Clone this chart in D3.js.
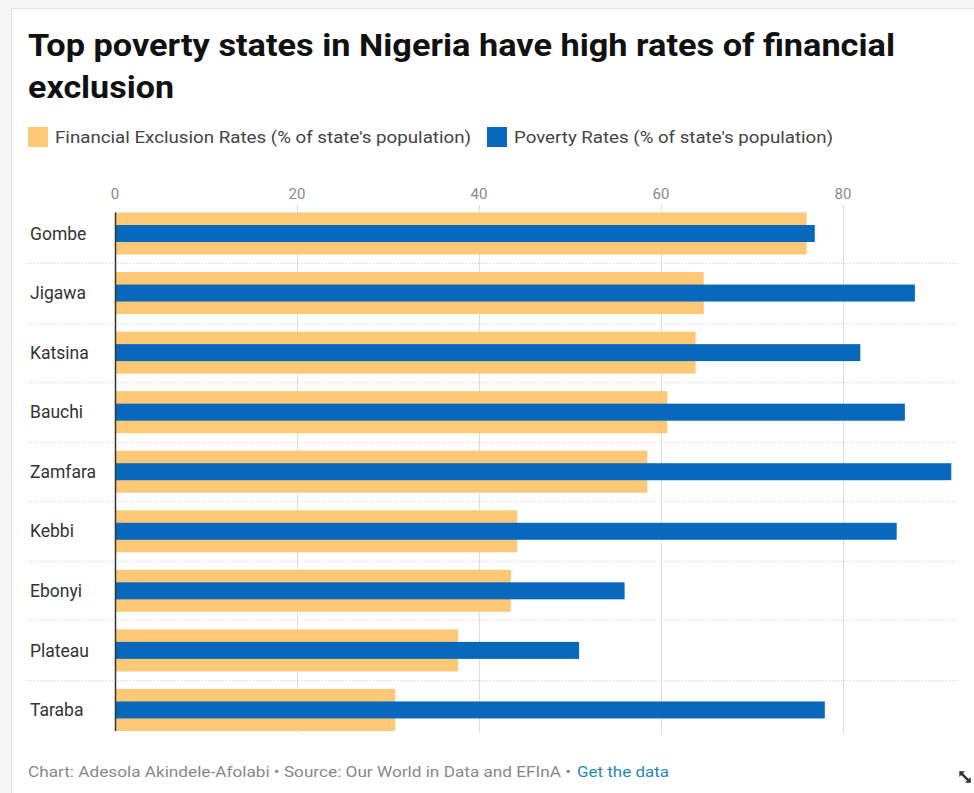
<!DOCTYPE html>
<html>
<head>
<meta charset="utf-8">
<title>Top poverty states in Nigeria</title>
<script src="https://cdn.jsdelivr.net/npm/d3@7"></script>
<style>
html, body { margin: 0; padding: 0; background: #f6f6f6; }
svg { display: block; font-family: Roboto, 'Open Sans', sans-serif; }
</style>
</head>
<body>
<svg id="chart"></svg>
<script>
// data
var states = ["Gombe", "Jigawa", "Katsina", "Bauchi", "Zamfara", "Kebbi", "Ebonyi", "Plateau", "Taraba"];
var exclusion = [76.0, 64.7, 63.8, 60.7, 58.5, 44.2, 43.5, 37.7, 30.8];
var poverty = [76.9, 87.9, 81.9, 86.8, 91.9, 85.9, 56.0, 51.0, 78.0];
var ticks = [0, 20, 40, 60, 80];

var W = 974, H = 793;
var orange = "#fec877", blue = "#0868bb";

var svg = d3.select("#chart").attr("width", W).attr("height", H);

// card
svg.append("rect").attr("x", 11.5).attr("y", 8.5).attr("width", W).attr("height", H)
  .attr("fill", "white").attr("stroke", "#e4e4e4");

// title (font is wider in the original, so stretch to its width)
svg.append("text").attr("x", 28).attr("y", 56)
  .attr("textLength", 867).attr("lengthAdjust", "spacingAndGlyphs")
  .style("font-size", "31px").style("font-weight", "bold").attr("fill", "#111")
  .text("Top poverty states in Nigeria have high rates of financial");
svg.append("text").attr("x", 28).attr("y", 98)
  .attr("textLength", 146).attr("lengthAdjust", "spacingAndGlyphs")
  .style("font-size", "31px").style("font-weight", "bold").attr("fill", "#111")
  .text("exclusion");

// legend
var legend = [
  {label: "Financial Exclusion Rates (% of state's population)", color: orange, x: 28, w: 416},
  {label: "Poverty Rates (% of state's population)", color: blue, x: 487, w: 319}
];
legend.forEach(function(l){
  svg.append("rect").attr("x", l.x).attr("y", 127).attr("width", 20).attr("height", 20).attr("fill", l.color);
  svg.append("text").attr("x", l.x + 27).attr("y", 143).text(l.label)
    .attr("textLength", l.w).attr("lengthAdjust", "spacingAndGlyphs")
    .style("font-size", "16px").attr("fill", "#444");
});

// scales
var x = d3.scaleLinear().domain([0, 80]).range([115, 843]);
var y = d3.scaleBand().domain(states).range([203.5, 739.5]).paddingInner(0).paddingOuter(0);
var bandH = y.bandwidth();

// gridlines and tick labels
var axis = svg.append("g");
ticks.forEach(function(t){
  if (t > 0) {
    axis.append("line").attr("x1", Math.round(x(t)) + 0.5).attr("x2", Math.round(x(t)) + 0.5)
      .attr("y1", 205).attr("y2", 733).attr("stroke", "#dcdcdc");
  }
  axis.append("text").attr("x", x(t)).attr("y", 199).attr("text-anchor", "middle")
    .style("font-size", "15px").attr("fill", "#8a8a8a").text(t);
});

// dotted separators
states.slice(0, -1).forEach(function(s){
  var yy = Math.round(y(s) + bandH) + 0.5;
  svg.append("line").attr("x1", 28).attr("x2", 957).attr("y1", yy).attr("y2", yy)
    .attr("stroke", "#cfcfcf").attr("stroke-dasharray", "1,2");
});

// bars
var rows = svg.append("g").selectAll("g").data(states).join("g")
  .attr("transform", function(d){ return "translate(0," + y(d) + ")"; });

rows.append("rect").attr("x", x(0))
  .attr("y", 9).attr("height", 42)
  .attr("width", function(d, i){ return x(exclusion[i]) - x(0); })
  .attr("fill", orange);

rows.append("rect").attr("x", x(0))
  .attr("y", 21.5).attr("height", 17)
  .attr("width", function(d, i){ return x(poverty[i]) - x(0); })
  .attr("fill", blue);

rows.append("text").attr("x", 30).attr("y", 30).attr("dy", "0.35em")
  .style("font-size", "17.5px").attr("fill", "#333").text(function(d){ return d; });

// zero line
svg.append("line").attr("x1", x(0) + 0.5).attr("x2", x(0) + 0.5)
  .attr("y1", y(states[0]) + 9).attr("y2", y(states[states.length - 1]) + 51)
  .attr("stroke", "#333").attr("stroke-width", 1.5);

// footer
svg.append("text").attr("x", 28).attr("y", 777).style("font-size", "14px").attr("fill", "#888")
  .attr("textLength", 543).attr("lengthAdjust", "spacingAndGlyphs")
  .text("Chart: Adesola Akindele-Afolabi \u2022 Source: Our World in Data and EFInA \u2022");
svg.append("text").attr("x", 577).attr("y", 777).style("font-size", "14px").attr("fill", "#1f8ab0")
  .attr("textLength", 92).attr("lengthAdjust", "spacingAndGlyphs")
  .text("Get the data");

// expand icon
var ic = svg.append("g").attr("transform", "translate(965,777) rotate(45)");
ic.append("line").attr("x1", -7).attr("x2", 7).attr("y1", 0).attr("y2", 0).attr("stroke", "#333").attr("stroke-width", 2.5);
ic.append("path").attr("d", "M-8,0 L-4,-4 L-4,4 Z M8,0 L4,-4 L4,4 Z").attr("fill", "#333");
</script>
</body>
</html>
